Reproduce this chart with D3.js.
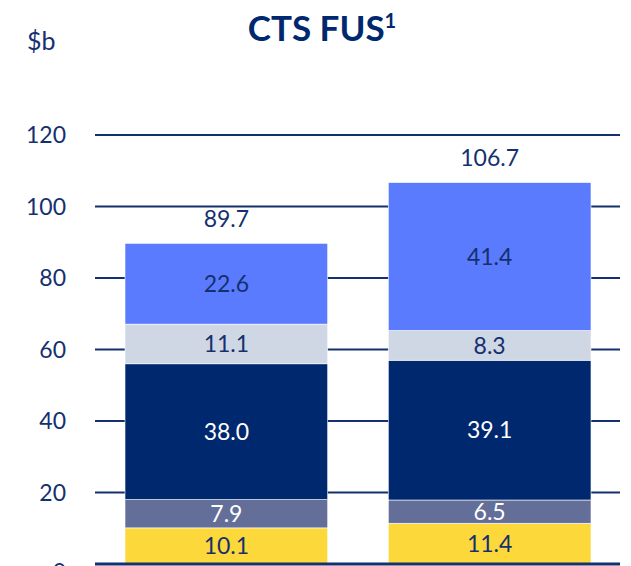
<!DOCTYPE html>
<html>
<head>
<meta charset="utf-8">
<script src="https://cdn.jsdelivr.net/npm/d3@7"></script>
<style>
  body { margin: 0; background: #fff; }
  svg { display: block; font-family: Lato, "Open Sans", sans-serif; }
</style>
</head>
<body>
<div id="chart"></div>
<script>
// data
var categories = ["A", "B"];
var seriesNames = ["s1", "s2", "s3", "s4", "s5"];
var seriesValues = {
  s1: [10.1, 11.4],
  s2: [7.9, 6.5],
  s3: [38.0, 39.1],
  s4: [11.1, 8.3],
  s5: [22.6, 41.4]
};
var totals = [89.7, 106.7];
var yTicks = [0, 20, 40, 60, 80, 100, 120];

var colors = ["#fdd83a", "#636e99", "#00286e", "#cfd6e4", "#5b7bff"];
var textColors = ["#14306f", "#ffffff", "#ffffff", "#14306f", "#14306f"];
var navy = "#14306f";

var width = 631, height = 566;

var svg = d3.select("#chart")
  .append("svg")
    .attr("width", width)
    .attr("height", height);

var rows = categories.map(function(c, i) {
  var r = {cat: c};
  seriesNames.forEach(function(s) { r[s] = seriesValues[s][i]; });
  return r;
});
var stacked = d3.stack().keys(seriesNames)(rows);

// scales
var x = d3.scaleBand()
  .domain(categories)
  .range([125, 591])
  .paddingInner(0.23)
  .paddingOuter(0);

var y = d3.scaleLinear()
  .domain([0, 120])
  .range([564, 135]);

// title
svg.append("text")
  .attr("x", 322)
  .attr("y", 41)
  .attr("text-anchor", "middle")
  .style("font-size", "35px")
  .style("font-weight", "bold")
  .style("fill", "#00286e")
  .text("CTS FUS")
  .append("tspan")
    .attr("dy", "-13")
    .style("font-size", "20px")
    .text("1");

svg.append("text")
  .attr("x", 27)
  .attr("y", 50)
  .style("font-size", "25px")
  .style("fill", navy)
  .text("$b");

// gridlines
svg.append("g")
  .selectAll("line")
  .data(yTicks.filter(function(d) { return d > 0; }))
  .enter()
  .append("line")
    .attr("x1", 95)
    .attr("x2", 620)
    .attr("y1", function(d) { return y(d); })
    .attr("y2", function(d) { return y(d); })
    .attr("stroke", "#14306f")
    .attr("stroke-width", 2);

// y labels
svg.append("g")
  .selectAll("text")
  .data(yTicks)
  .enter()
  .append("text")
    .attr("x", 66)
    .attr("y", function(d) { return d === 0 ? y(d) + 8 : y(d); })
    .attr("dy", "0.36em")
    .attr("text-anchor", "end")
    .style("font-size", "23px")
    .style("fill", navy)
    .text(function(d) { return d; });

// bars
var layers = svg.selectAll(".layer")
  .data(stacked)
  .enter()
  .append("g")
    .attr("fill", function(d, i) { return colors[i]; });

layers.selectAll("rect")
  .data(function(d) { return d; })
  .enter()
  .append("rect")
    .attr("x", function(d) { return x(d.data.cat); })
    .attr("y", function(d) { return y(d[1]); })
    .attr("width", x.bandwidth())
    .attr("height", function(d) { return y(d[0]) - y(d[1]); })
    .attr("stroke", "#ffffff")
    .attr("stroke-width", 0.6);

// segment labels
stacked.forEach(function(layer, i) {
  svg.append("g")
    .selectAll("text")
    .data(layer)
    .enter()
    .append("text")
      .attr("x", function(d) { return x(d.data.cat) + x.bandwidth() / 2; })
      .attr("y", function(d) { return y((d[0] + d[1]) / 2); })
      .attr("dy", "0.36em")
      .attr("text-anchor", "middle")
      .style("font-size", "23px")
      .style("fill", textColors[i])
      .text(function(d) { return (d[1] - d[0]).toFixed(1); });
});

// totals
svg.append("g")
  .selectAll("text")
  .data(totals)
  .enter()
  .append("text")
    .attr("x", function(d, i) { return x(categories[i]) + x.bandwidth() / 2; })
    .attr("y", function(d) { return y(d) - 25; })
    .attr("dy", "0.36em")
    .attr("text-anchor", "middle")
    .style("font-size", "23px")
    .style("fill", navy)
    .text(function(d) { return d.toFixed(1); });

// baseline
svg.append("line")
  .attr("x1", 95)
  .attr("x2", 620)
  .attr("y1", y(0))
  .attr("y2", y(0))
  .attr("stroke", "#14306f")
  .attr("stroke-width", 3);
</script>
</body>
</html>
